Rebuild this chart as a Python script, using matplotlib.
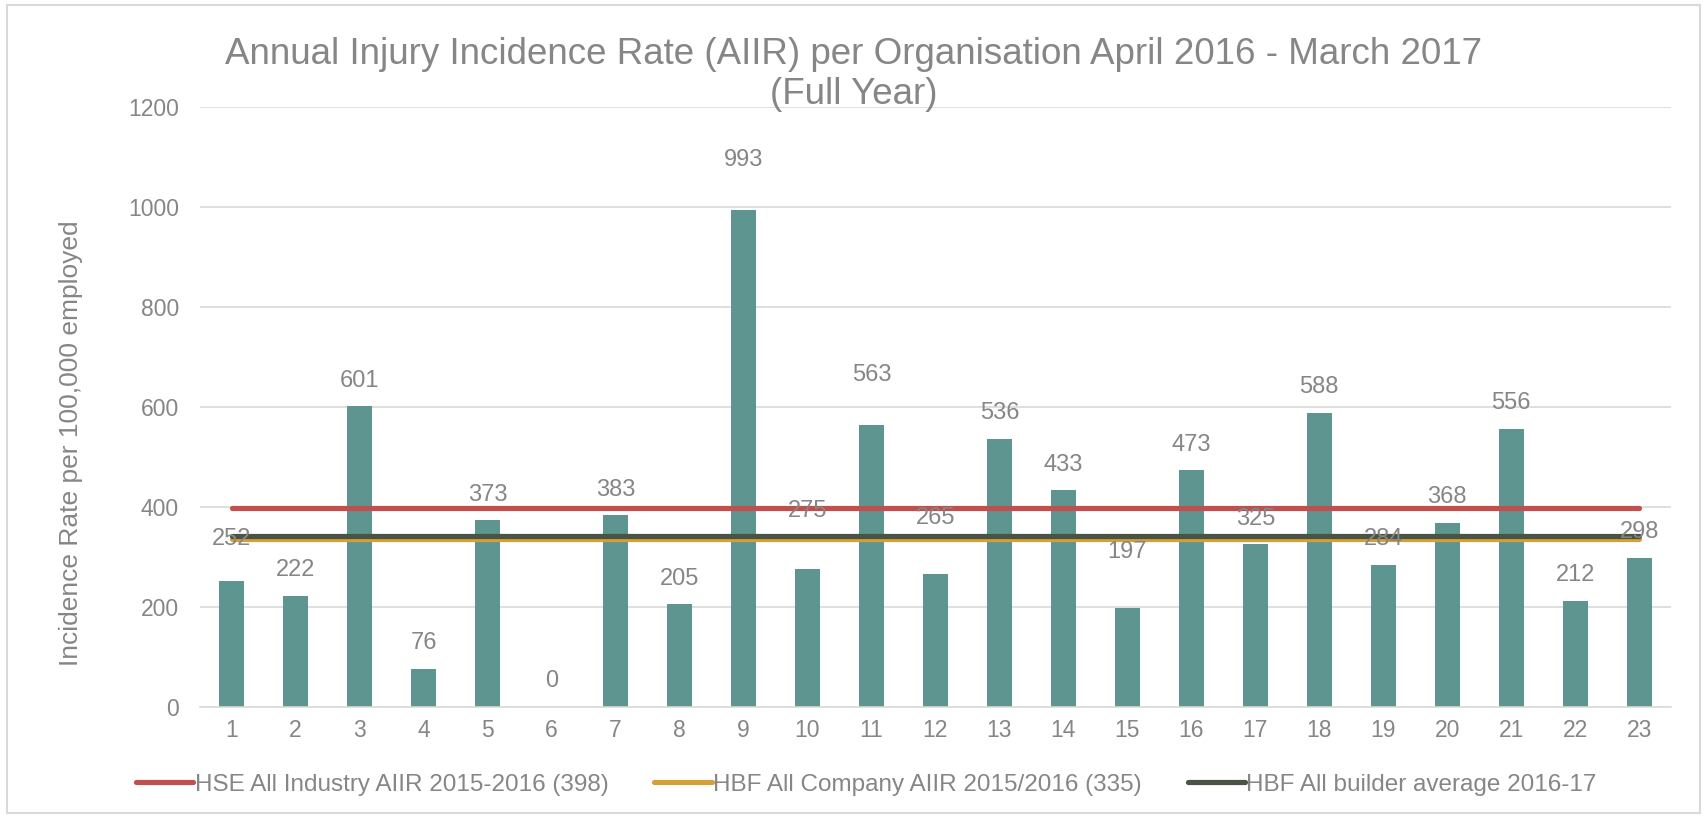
import numpy as np
import matplotlib.pyplot as plt
from matplotlib.patches import Rectangle

plt.rcParams['font.family'] = ['Liberation Sans', 'DejaVu Sans']

orgs = list(range(1, 24))
aiir = [252, 222, 601, 76, 373, 0, 383, 205, 993, 275, 563, 265, 536, 433,
        197, 473, 325, 588, 284, 368, 556, 212, 298]
hse_all_industry = 398
hbf_all_company = 335
hbf_builder_avg = 341

grey = '#868686'

# a few data labels were pushed higher in the original chart (points above bar)
label_lift = {1: 30, 9: 36, 10: 42, 11: 36, 12: 41, 15: 41}

fig = plt.figure(figsize=(17.07, 8.16), dpi=100)
fig.patches.append(Rectangle((0.004, 0.004), 0.992, 0.99, transform=fig.transFigure,
                             fill=False, edgecolor='#D9D9D9', linewidth=1.5))
ax = fig.add_axes([0.117, 0.1336, 0.862, 0.7353])

ax.bar(orgs, aiir, width=0.39, color='#5F9591', zorder=2)
ax.plot([orgs[0], orgs[-1]], [hse_all_industry] * 2, color='#C0504D', lw=3.75,
        solid_capstyle='round', zorder=3, label='HSE All Industry AIIR 2015-2016 (398)')
ax.plot([orgs[0], orgs[-1]], [hbf_all_company] * 2, color='#D4A037', lw=3.75,
        solid_capstyle='round', zorder=3, label='HBF All Company AIIR 2015/2016 (335)')
ax.plot([orgs[0], orgs[-1]], [hbf_builder_avg] * 2, color='#4A5444', lw=3.75,
        solid_capstyle='round', zorder=3, label='HBF All builder average 2016-17')

for x, v in zip(orgs, aiir):
    ax.annotate(str(v), (x, v), xytext=(0, label_lift.get(x, 18.5)), textcoords='offset points',
                ha='center', va='center', fontsize=17, color=grey, zorder=4)

ax.set_xlim(0.5, 23.5)
ax.set_ylim(0, 1200)
ax.set_yticks(range(0, 1201, 200))
ax.set_xticks(orgs)
ax.grid(axis='y', color='#D9D9D9', lw=1.2, zorder=0)
for s in ['top', 'right', 'left']:
    ax.spines[s].set_visible(False)
ax.spines['bottom'].set_color('#D9D9D9')
ax.spines['bottom'].set_linewidth(1.2)
ax.tick_params(axis='y', length=0, labelsize=16.5, labelcolor=grey, pad=15)
ax.tick_params(axis='x', length=0, labelsize=16.5, labelcolor=grey, pad=9)
ax.set_ylabel('Incidence Rate per 100,000 employed', fontsize=19, color=grey)
ax.yaxis.set_label_coords(-0.079, 0.44)

fig.text(0.5, 0.909,
         'Annual Injury Incidence Rate (AIIR) per Organisation April 2016 - March 2017\n(Full Year)',
         ha='center', va='center', fontsize=26.5, color=grey, linespacing=1.2)

ax.legend(loc='center', bbox_to_anchor=(0.453, -0.13), ncol=3, frameon=False,
          fontsize=17.5, labelcolor=grey, handlelength=2.35, handletextpad=0.05,
          columnspacing=1.9)

fig.savefig('out.png', dpi=100)
